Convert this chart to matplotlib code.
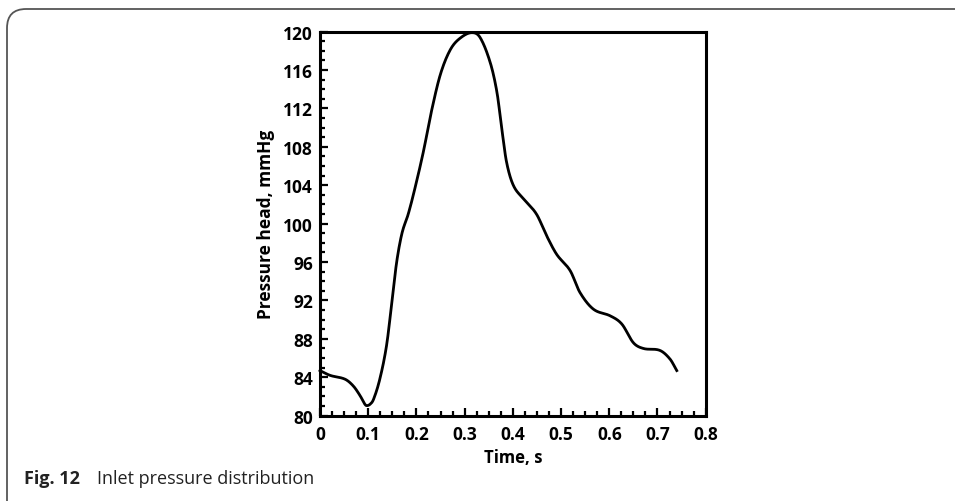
import numpy as np
import matplotlib.pyplot as plt
from matplotlib.patches import FancyBboxPatch
from matplotlib.ticker import MultipleLocator

# Inlet pressure over one cardiac cycle
time_s = [0.0, 0.021, 0.052, 0.069, 0.083, 0.093, 0.097, 0.104, 0.111, 0.124,
          0.138, 0.149, 0.159, 0.170, 0.183, 0.196, 0.214, 0.232, 0.250,
          0.270, 0.290, 0.315, 0.332, 0.353, 0.367, 0.377, 0.387, 0.401,
          0.422, 0.449, 0.470, 0.491, 0.519, 0.539, 0.567, 0.602, 0.626,
          0.650, 0.671, 0.705, 0.726, 0.740]
pressure_mmhg = [84.7, 84.2, 83.8, 83.1, 82.1, 81.2, 81.05, 81.2, 81.7, 83.8,
                 87.3, 91.8, 96.0, 99.0, 101.0, 103.5, 107.4, 111.9, 115.6,
                 118.1, 119.3, 119.9, 119.4, 116.8, 113.7, 109.9, 106.4, 104.0,
                 102.6, 101.0, 98.75, 96.8, 95.1, 92.85, 91.1, 90.4, 89.55,
                 87.6, 87.0, 86.8, 85.9, 84.7]

x_ticks = [0, 0.1, 0.2, 0.3, 0.4, 0.5, 0.6, 0.7, 0.8]
x_ticklabels = ['0', '0.1', '0.2', '0.3', '0.4', '0.5', '0.6', '0.7', '0.8']
y_ticks = list(range(80, 121, 4))

plt.rcParams['font.family'] = ['Open Sans', 'DejaVu Sans']

fig = plt.figure(figsize=(9.55, 5.02), dpi=100)

# rounded frame round the figure (only top-left part is visible)
frame = FancyBboxPatch((7 / 955, -0.1), 1.2, (492 / 502) + 0.1,
                       boxstyle='round,pad=0,rounding_size=0.02',
                       transform=fig.transFigure, fill=False,
                       edgecolor='#555555', linewidth=1.3,
                       mutation_aspect=955 / 502)
fig.patches.append(frame)

ax = fig.add_axes([320 / 955, 1 - 416.7 / 502, 385.7 / 955, 384 / 502])

# smooth curve through the read points (cubic Hermite, central-difference slopes)
t = np.array(time_s)
p = np.array(pressure_mmhg)
tt = np.linspace(t[0], t[-1], 800)
h = np.diff(t)
m = np.zeros_like(p)
m[0] = (p[1] - p[0]) / h[0]
m[-1] = (p[-1] - p[-2]) / h[-1]
m[1:-1] = (p[2:] - p[:-2]) / (t[2:] - t[:-2])
m[np.argmin(p)] = 0.0
m[np.argmax(p)] = 0.0
idx = np.clip(np.searchsorted(t, tt) - 1, 0, len(t) - 2)
s = (tt - t[idx]) / h[idx]
h00 = 2 * s**3 - 3 * s**2 + 1
h10 = s**3 - 2 * s**2 + s
h01 = -2 * s**3 + 3 * s**2
h11 = s**3 - s**2
pp = h00 * p[idx] + h10 * h[idx] * m[idx] + h01 * p[idx + 1] + h11 * h[idx] * m[idx + 1]

ax.plot(tt, pp, color='black', linewidth=2, clip_on=False)

ax.set_xlim(0, 0.8)
ax.set_ylim(80, 120)
ax.set_xticks(x_ticks)
ax.set_xticklabels(x_ticklabels)
ax.set_yticks(y_ticks)
ax.xaxis.set_minor_locator(MultipleLocator(0.025))
ax.yaxis.set_minor_locator(MultipleLocator(1))

for sp in ax.spines.values():
    sp.set_linewidth(2.2)
ax.tick_params(which='major', direction='in', length=6, width=1.6,
               labelsize=12.5, pad=5)
ax.tick_params(axis='x', which='major', pad=7)
ax.tick_params(which='minor', direction='in', length=3.5, width=1.6)
ax.tick_params(axis='y', which='both', left=True, right=False)
ax.tick_params(axis='x', which='both', bottom=True, top=False)
for lab in ax.get_xticklabels() + ax.get_yticklabels():
    lab.set_fontweight('bold')

ax.set_xlabel('Time, s', fontsize=12, fontweight='bold', labelpad=3)
ax.set_ylabel('Pressure head, mmHg', fontsize=12.5, fontweight='bold', labelpad=6)

fig.text(24 / 955, 1 - 479 / 502, 'Fig. 12', fontsize=13, fontweight='bold',
         color='#222222', va='center', ha='left')
fig.text(97 / 955, 1 - 479 / 502, 'Inlet pressure distribution', fontsize=13,
         color='#222222', va='center', ha='left')

fig.savefig('out.png', dpi=100)
